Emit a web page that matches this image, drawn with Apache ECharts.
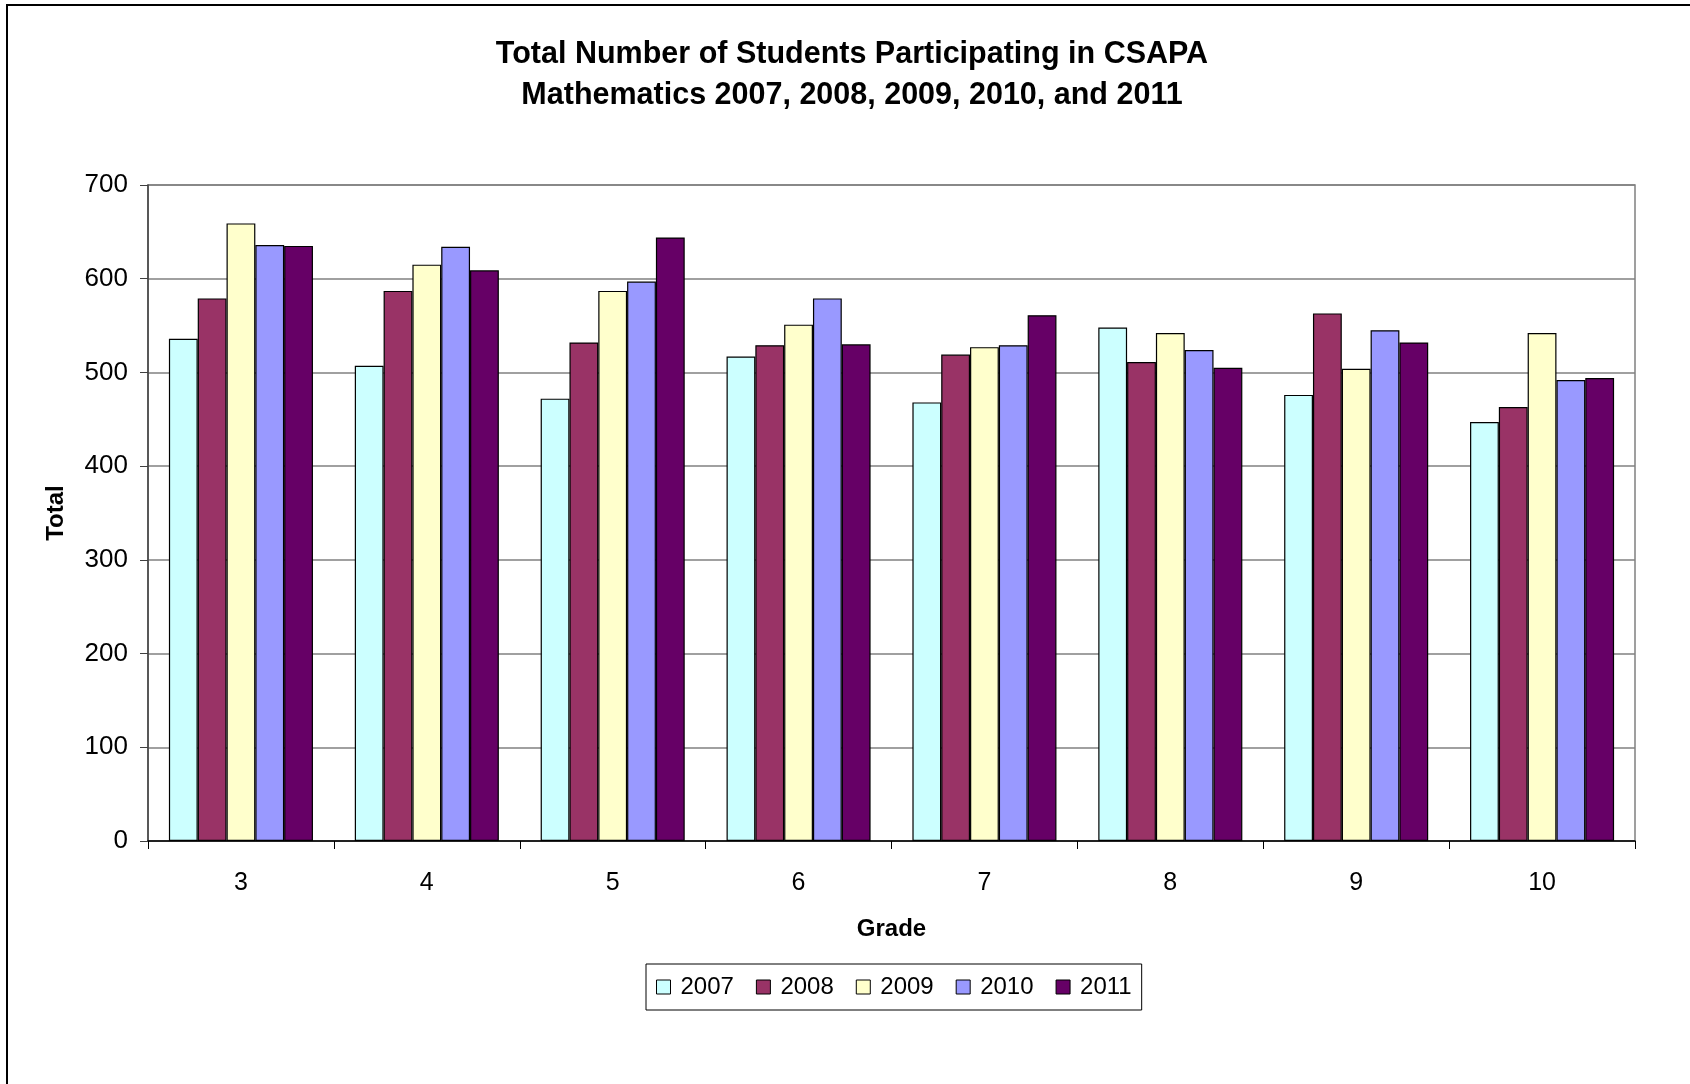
<!DOCTYPE html>
<html>
<head>
<meta charset="utf-8">
<script src="https://cdn.jsdelivr.net/npm/echarts@6/dist/echarts.min.js"></script>
<style>
html, body { margin: 0; padding: 0; background: #fff; }
#chart { width: 1690px; height: 1084px; }
</style>
</head>
<body>
<div id="chart"></div>
<script>
// grades on the x axis
var grades = ['3', '4', '5', '6', '7', '8', '9', '10'];
var years = ['2007', '2008', '2009', '2010', '2011'];
var yTicks = [0, 100, 200, 300, 400, 500, 600, 700];

// totals per grade
var y2007 = [536, 507, 472, 517, 468, 548, 476, 447];
var y2008 = [579, 587, 532, 529, 519, 511, 563, 463];
var y2009 = [659, 615, 587, 551, 527, 542, 504, 542];
var y2010 = [636, 634, 597, 579, 529, 524, 545, 492];
var y2011 = [635, 609, 644, 530, 561, 505, 532, 494];

var colors = ['#CCFFFF', '#993366', '#FFFFCC', '#9999FF', '#660066'];
var font = 'Liberation Sans, Arial, sans-serif';

var chart = echarts.init(document.getElementById('chart'));

var seriesData = [y2007, y2008, y2009, y2010, y2011];
var series = [];
for (var i = 0; i < years.length; i++) {
  series.push({
    name: years[i],
    type: 'bar',
    data: seriesData[i],
    barGap: '0%',
    barCategoryGap: '22.5%',
    itemStyle: { color: colors[i], borderColor: '#000', borderWidth: 1.2 },
    animation: false
  });
}

var option = {
  animation: false,
  color: colors,
  textStyle: { fontFamily: font },
  title: {
    text: 'Total Number of Students Participating in CSAPA\nMathematics 2007, 2008, 2009, 2010, and 2011',
    left: 847,
    textAlign: 'center',
    top: 29,
    textStyle: { fontSize: 30.5, fontWeight: 'bold', color: '#000', lineHeight: 41, fontFamily: font }
  },
  legend: {
    data: years,
    left: 646,
    top: 964,
    padding: [11, 10, 11, 10],
    borderColor: '#000',
    borderWidth: 1,
    itemWidth: 14,
    itemHeight: 14,
    itemGap: 22,
    icon: 'rect',
    itemStyle: { borderColor: '#000', borderWidth: 1 },
    textStyle: { fontSize: 24, color: '#000', fontFamily: font, padding: [0, 0, 0, 5] }
  },
  grid: {
    left: 148,
    right: 55,
    top: 185,
    bottom: 243,
    show: true,
    borderColor: '#808080',
    borderWidth: 1.5
  },
  xAxis: {
    type: 'category',
    data: grades,
    name: 'Grade',
    nameLocation: 'middle',
    nameGap: 76,
    nameTextStyle: { fontSize: 24, fontWeight: 'bold', color: '#000', fontFamily: font },
    axisLine: { lineStyle: { color: '#000', width: 1.5 } },
    axisTick: { show: true, length: 8, lineStyle: { color: '#000' } },
    axisLabel: { fontSize: 25, color: '#000', margin: 30, fontFamily: font }
  },
  yAxis: {
    type: 'value',
    min: yTicks[0],
    max: yTicks[yTicks.length - 1],
    interval: 100,
    name: 'Total',
    nameLocation: 'middle',
    nameGap: 80,
    nameTextStyle: { fontSize: 24, fontWeight: 'bold', color: '#000', fontFamily: font },
    axisLine: { show: true, lineStyle: { color: '#404040', width: 1.5 } },
    axisTick: { show: true, length: 8, lineStyle: { color: '#404040' } },
    axisLabel: { fontSize: 26, color: '#000', margin: 20, fontFamily: font },
    splitLine: { show: true, lineStyle: { color: '#808080', width: 1.5 } }
  },
  graphic: [
    {
      type: 'rect',
      shape: { x: 7, y: 5, width: 2000, height: 2000 },
      style: { fill: 'none', stroke: '#000', lineWidth: 2 },
      silent: true
    }
  ],
  series: series
};

chart.setOption(option);
</script>
</body>
</html>
